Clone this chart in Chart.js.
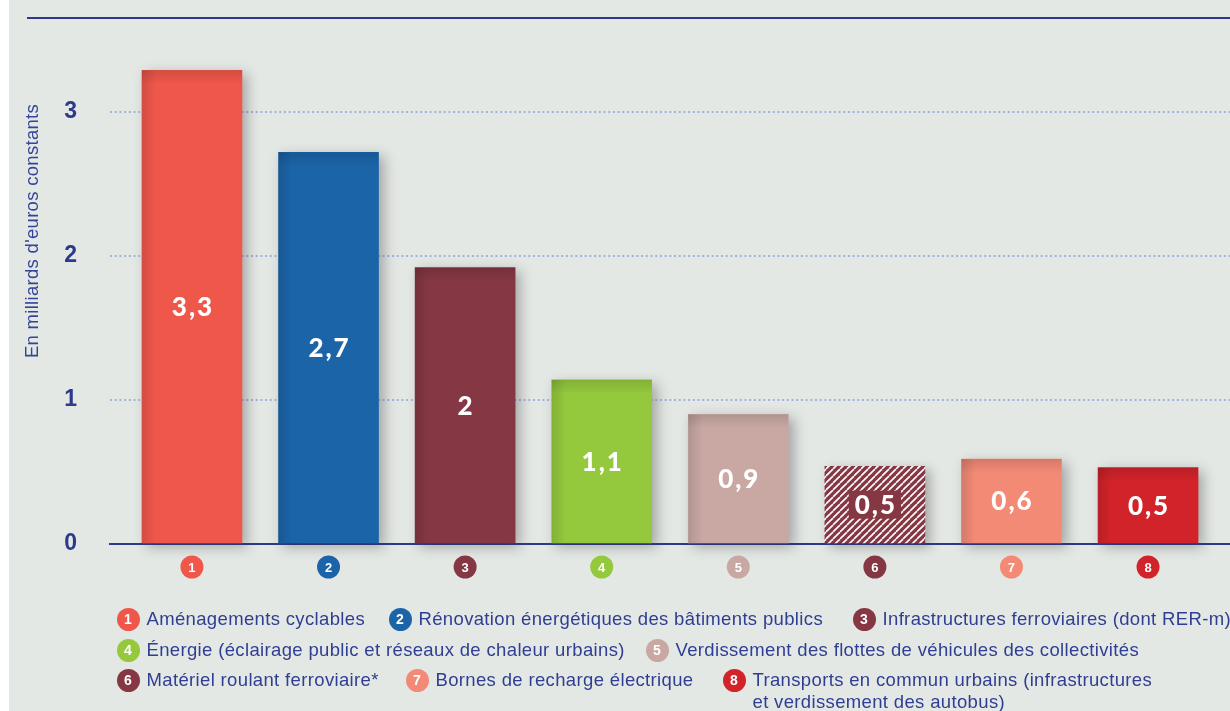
<!DOCTYPE html>
<html lang="fr">
<head>
<meta charset="UTF-8">
<title>Investissements des collectivités</title>
<script src="https://cdn.jsdelivr.net/npm/chart.js"></script>
<style>
  html, body { margin: 0; padding: 0; background: #fff; }
  #bg { position: absolute; left: 9px; top: 0; width: 1221px; height: 711px; background: #e4e8e5; }
  #topline { position: absolute; left: 27px; top: 17px; width: 1203px; height: 1.5px; background: #2d3a8c; }
  #chart { position: absolute; left: 0; top: 0; }
  .item { position: absolute; display: flex; align-items: flex-start; font-family: "Liberation Sans", Arial, sans-serif;
          font-size: 18.5px; letter-spacing: 0.35px; color: #2f3e93; line-height: 22px; white-space: pre; }
  .dot { width: 23px; height: 23px; border-radius: 50%; color: #fff; font-size: 14px; font-weight: bold; letter-spacing: 0;
         text-align: center; line-height: 23px; margin-right: 7px; flex: none; }
</style>
</head>
<body>
<div id="bg"></div>
<div id="topline"></div>
<canvas id="chart" width="1230" height="711"></canvas>
<div id="legend"></div>

<script>
const categories = [
  "Aménagements cyclables",
  "Rénovation énergétiques des bâtiments publics",
  "Infrastructures ferroviaires (dont RER-m)",
  "Énergie (éclairage public et réseaux de chaleur urbains)",
  "Verdissement des flottes de véhicules des collectivités",
  "Matériel roulant ferroviaire*",
  "Bornes de recharge électrique",
  "Transports en commun urbains (infrastructures\net verdissement des autobus)"
];
const numbers = [1, 2, 3, 4, 5, 6, 7, 8];
const values = [3.29, 2.72, 1.92, 1.14, 0.90, 0.54, 0.59, 0.53];
const valueLabels = ["3,3", "2,7", "2", "1,1", "0,9", "0,5", "0,6", "0,5"];
const yTicks = [0, 1, 2, 3];
const yTitle = "En milliards d'euros constants";

const colors = ["#f0574b", "#1b64a8", "#853743", "#94c83d", "#c9a8a4", "#853743", "#f38a76", "#d2232a"];
// legend placement: circle centre x, y
const legendPos = [[128, 619], [400, 619], [864, 619], [128, 650], [657, 650], [128, 680], [417, 680], [734, 680]];

const blue = "#2d3a8c";

// hatched fill for bar 6
function hatch(col) {
  const p = document.createElement("canvas");
  p.width = 7; p.height = 7;
  const c = p.getContext("2d");
  c.fillStyle = col; c.fillRect(0, 0, 7, 7);
  c.strokeStyle = "#ffffff"; c.lineWidth = 1.6;
  for (let k = -7; k <= 7; k += 7) {
    c.beginPath(); c.moveTo(k, 7); c.lineTo(k + 7, 0); c.stroke();
  }
  return c.createPattern(p, "repeat");
}
const fills = colors.map((c, i) => i === 5 ? hatch(c) : c);

const shadowPlugin = {
  id: "shadow",
  beforeDatasetsDraw(chart) {
    const c = chart.ctx;
    c.save();
    c.shadowColor = "rgba(40,40,40,0.35)";
    c.shadowBlur = 12;
    c.shadowOffsetX = 5;
    c.shadowOffsetY = 4;
  },
  afterDatasetsDraw(chart) {
    chart.ctx.restore();
  }
};

const labelPlugin = {
  id: "labels",
  afterDatasetsDraw(chart) {
    const c = chart.ctx;
    const meta = chart.getDatasetMeta(0);
    c.save();
    c.textAlign = "center";
    c.textBaseline = "middle";
    meta.data.forEach((el, i) => {
      const left = el.x - el.width / 2;
      const h = el.base - el.y;
      // soft inner shade along the top and left edges
      if (i !== 5) {
        let g = c.createLinearGradient(left, 0, left + 14, 0);
        g.addColorStop(0, "rgba(0,0,0,0.12)");
        g.addColorStop(1, "rgba(0,0,0,0)");
        c.fillStyle = g;
        c.fillRect(left, el.y, 14, h);
        g = c.createLinearGradient(0, el.y, 0, el.y + 14);
        g.addColorStop(0, "rgba(0,0,0,0.12)");
        g.addColorStop(1, "rgba(0,0,0,0)");
        c.fillStyle = g;
        c.fillRect(left, el.y, el.width, 14);
      }
      const cy = (el.y + el.base) / 2;
      c.font = "900 26px Lato, sans-serif";
      c.letterSpacing = "2px";
      if (i === 5) {
        const w = c.measureText(valueLabels[i]).width + 10;
        c.fillStyle = colors[i];
        c.fillRect(el.x - w / 2, cy - 14, w, 28);
      }
      c.fillStyle = "#ffffff";
      c.fillText(valueLabels[i], el.x + 1, cy + 1);
      // numbered circle under the bar
      c.letterSpacing = "0px";
      const by = chart.chartArea.bottom + 23;
      c.beginPath();
      c.arc(el.x, by, 11.5, 0, Math.PI * 2);
      c.fillStyle = colors[i];
      c.fill();
      c.fillStyle = "#ffffff";
      c.font = "bold 13px 'Liberation Sans', Arial, sans-serif";
      c.fillText(String(numbers[i]), el.x, by + 1);
    });
    c.restore();
  },
  afterDraw(chart) {
    const c = chart.ctx;
    c.save();
    c.translate(33, 231);
    c.rotate(-Math.PI / 2);
    c.textAlign = "center";
    c.textBaseline = "middle";
    c.fillStyle = "#34449a";
    c.font = "18.5px 'Liberation Sans', Arial, sans-serif";
    c.letterSpacing = "0.3px";
    c.fillText(yTitle, 0, 0);
    c.restore();
  }
};

new Chart(document.getElementById("chart"), {
  type: "bar",
  data: {
    datasets: [{
      data: numbers.map((n, i) => ({ x: n, y: values[i] })),
      backgroundColor: fills,
      borderWidth: 0,
      barThickness: 100,
      clip: false
    }]
  },
  options: {
    responsive: false,
    animation: false,
    devicePixelRatio: 1,
    layout: { padding: { left: 10, top: 40, right: 0, bottom: 167 } },
    plugins: { legend: { display: false }, tooltip: { enabled: false } },
    scales: {
      x: {
        type: "linear",
        offset: false,
        min: 0.4,
        max: 8.6,
        ticks: { display: false },
        grid: { display: false, drawTicks: false },
        border: { display: true, color: blue, width: 2 }
      },
      y: {
        min: 0,
        max: 3.5,
        afterBuildTicks: s => { s.ticks = yTicks.map(v => ({ value: v })); },
        afterFit: s => { s.width = 100; s.paddingTop = 0; s.paddingBottom = 0; },
        ticks: {
          color: blue,
          padding: 33,
          font: { family: "'Liberation Sans', Arial, sans-serif", size: 23, weight: "bold" }
        },
        grid: { color: "#a2b2dc", lineWidth: 2, drawTicks: false },
        border: { display: false, dash: [2, 2.7] }
      }
    }
  },
  plugins: [shadowPlugin, labelPlugin]
});

// legend
const legend = document.getElementById("legend");
categories.forEach((name, i) => {
  const item = document.createElement("div");
  item.className = "item";
  item.style.left = (legendPos[i][0] - 11.5) + "px";
  item.style.top = (legendPos[i][1] - 11.5) + "px";
  const dot = document.createElement("div");
  dot.className = "dot";
  dot.style.background = colors[i];
  dot.textContent = numbers[i];
  const txt = document.createElement("div");
  txt.textContent = name;
  item.appendChild(dot);
  item.appendChild(txt);
  legend.appendChild(item);
});
</script>
</body>
</html>
